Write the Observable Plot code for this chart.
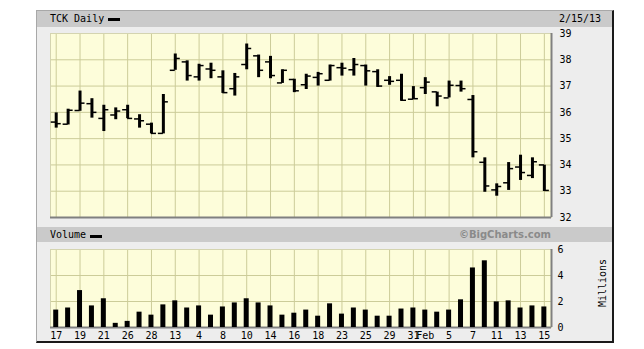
<!DOCTYPE html>
<html><head><meta charset="utf-8">
<script src="https://cdn.jsdelivr.net/npm/d3@7"></script>
<script src="https://cdn.jsdelivr.net/npm/@observablehq/plot@0.6"></script>
<style>
html,body{margin:0;padding:0;background:#fff;}
#wrap{position:relative;width:644px;height:349px;overflow:hidden;font-family:"DejaVu Sans Mono",monospace;font-size:10px;color:#000;}
.abs{position:absolute;white-space:nowrap;}
.txt{line-height:12px;}
svg{overflow:visible;}
</style></head><body>
<div id="wrap">
  <div class="abs" style="left:36px;top:10px;width:575px;height:330px;background:#ededed;border-left:1px solid #a8a8a8;border-top:1px solid #a8a8a8;border-right:2px solid #1a1a1a;border-bottom:2px solid #1a1a1a;"></div>
  <div class="abs" style="left:37px;top:11px;width:575px;height:16px;background:#cacaca;"></div>
  <div class="abs txt" style="left:50px;top:13px;">TCK Daily</div>
  <div class="abs" style="left:108px;top:18px;width:12px;height:3px;background:#000;"></div>
  <div class="abs txt" style="left:559px;top:13px;">2/15/13</div>
  <div class="abs" style="left:37px;top:227px;width:575px;height:15px;background:#cacaca;"></div>
  <div class="abs txt" style="left:50px;top:229px;">Volume</div>
  <div class="abs" style="left:90px;top:235px;width:12px;height:3px;background:#000;"></div>
  <div class="abs txt" style="right:93px;top:229px;font-family:'DejaVu Sans',sans-serif;font-weight:bold;color:#8a8a8a;">©BigCharts.com</div>
  <div class="abs txt" style="left:603px;top:283px;transform:translate(-50%,-50%) rotate(-90deg);">Millions</div>
  <div class="abs" id="price" style="left:0;top:0;"></div>
  <div class="abs" id="vol" style="left:0;top:242px;"></div>
</div>
<script>
const dates = ["2012-12-17","2012-12-18","2012-12-19","2012-12-20","2012-12-21","2012-12-24","2012-12-26","2012-12-27","2012-12-28","2012-12-31",
  "2013-01-02","2013-01-03","2013-01-04","2013-01-07","2013-01-08","2013-01-09","2013-01-10","2013-01-11","2013-01-14","2013-01-15",
  "2013-01-16","2013-01-17","2013-01-18","2013-01-22","2013-01-23","2013-01-24","2013-01-25","2013-01-28","2013-01-29","2013-01-30",
  "2013-01-31","2013-02-01","2013-02-04","2013-02-05","2013-02-06","2013-02-07","2013-02-08","2013-02-11","2013-02-12","2013-02-13",
  "2013-02-14","2013-02-15"];
const open  = [35.63,35.55,36.07,36.33,35.77,35.90,36.10,35.75,35.55,35.20,37.60,37.92,37.35,37.65,37.35,36.90,37.82,38.15,37.92,37.12,37.25,37.05,37.33,37.22,37.70,37.62,37.78,37.55,37.22,37.22,36.50,36.94,36.78,36.55,37.02,36.49,34.10,33.05,33.32,33.92,33.60,34.00];
const high  = [35.98,36.12,36.81,36.52,36.27,36.17,36.27,35.91,35.59,36.68,38.22,37.96,37.83,37.87,37.58,37.48,38.60,38.18,38.13,37.62,37.26,37.45,37.52,37.80,37.87,38.05,37.80,37.62,37.36,37.45,36.98,37.32,36.77,37.19,37.19,36.64,34.27,33.28,34.09,34.37,34.27,33.99];
const low   = [35.40,35.52,36.04,35.78,35.27,35.72,35.76,35.40,35.18,35.18,37.60,37.19,37.19,37.28,36.72,36.62,37.62,37.32,37.28,37.10,36.75,36.87,37.00,37.19,37.38,37.38,37.00,36.95,37.03,36.42,36.49,36.68,36.21,36.55,36.77,34.27,32.96,32.81,33.03,33.41,33.48,32.99];
const close = [35.57,36.08,36.35,36.00,36.10,36.05,35.77,35.68,35.20,36.40,38.05,37.40,37.78,37.60,36.75,37.35,38.43,37.60,37.40,37.60,36.82,37.38,37.47,37.78,37.68,37.82,37.58,37.00,37.18,36.46,36.52,37.15,36.62,37.03,36.90,34.50,33.20,33.18,33.86,33.71,34.12,33.03];
const volume = [1.34,1.50,2.84,1.66,2.21,0.32,0.47,1.18,0.95,1.74,2.05,1.50,1.66,0.95,1.58,1.89,2.21,1.89,1.66,0.95,1.10,1.34,0.87,1.82,1.03,1.50,1.34,0.87,0.87,1.42,1.50,1.34,1.18,1.34,2.13,4.58,5.13,1.97,2.05,1.50,1.66,1.58];
const xTickDates = ["2012-12-17","2012-12-19","2012-12-21","2012-12-26","2012-12-28","2013-01-02","2013-01-04","2013-01-08","2013-01-10","2013-01-14","2013-01-16","2013-01-18","2013-01-23","2013-01-25","2013-01-29","2013-01-31","2013-02-01","2013-02-05","2013-02-07","2013-02-11","2013-02-13","2013-02-15"];
const xTickLabels = ["17","19","21","26","28","13","4","8","10","14","16","18","23","25","29","31","Feb","5","7","11","13","15"];
const priceTicks = [32,33,34,35,36,37,38,39];
const volumeTicks = [0,2,4,6];

const data = dates.map((d,i)=>({i, date:d, open:open[i], high:high[i], low:low[i], close:close[i], volume:volume[i]}));
const xTickIdx = xTickDates.map(d=>dates.indexOf(d));
const labelOf = new Map(xTickIdx.map((v,k)=>[v, xTickLabels[k]]));
const xDomain = [-0.48, 41.6];
const grid = "#cccc99";
const bg = "#fdfdda";
const style = {background:"transparent", fontFamily:"'DejaVu Sans Mono', monospace", fontSize:"10px", color:"#000", overflow:"visible"};

const price = Plot.plot({
  width:644, height:222, marginTop:33, marginBottom:5, marginLeft:50, marginRight:93,
  style,
  x:{domain:xDomain, axis:null},
  y:{domain:[32,39], axis:"right", ticks:priceTicks, tickSize:0, tickPadding:8, tickFormat:d=>String(d), label:null},
  marks:[
    Plot.frame({fill:bg, stroke:null}),
    Plot.ruleY(priceTicks, {stroke:grid}),
    Plot.ruleX(xTickIdx, {stroke:grid}),
    Plot.frame({stroke:"#d4d4b0"}),
    Plot.ruleY([32], {stroke:"#808080", strokeWidth:2}),
    Plot.ruleX([xDomain[1]], {stroke:"#808080", strokeWidth:2}),
    Plot.ruleX(data, {x:"i", y1:"low", y2:"high", stroke:"#000", strokeWidth:3}),
    Plot.ruleY(data, {y:"open", x1:d=>d.i-0.42, x2:"i", stroke:"#000", strokeWidth:1.5}),
    Plot.ruleY(data, {y:"close", x1:"i", x2:d=>d.i+0.42, stroke:"#000", strokeWidth:1.5})
  ]
});
document.getElementById("price").appendChild(price);

const vol = Plot.plot({
  width:644, height:100, marginTop:7, marginBottom:15, marginLeft:50, marginRight:93,
  style,
  x:{domain:xDomain, ticks:xTickIdx, tickSize:0, tickPadding:4, tickFormat:d=>labelOf.get(d), label:null},
  y:{domain:[0,6], axis:"right", ticks:volumeTicks, tickSize:0, tickPadding:6, tickFormat:d=>String(d), label:null},
  marks:[
    Plot.frame({fill:bg, stroke:null}),
    Plot.ruleY(volumeTicks, {stroke:grid}),
    Plot.ruleX(xTickIdx, {stroke:grid}),
    Plot.frame({stroke:"#d4d4b0"}),
    Plot.ruleY([0], {stroke:"#808080", strokeWidth:2}),
    Plot.ruleX([xDomain[1]], {stroke:"#808080", strokeWidth:2}),
    Plot.rectY(data, {x1:d=>d.i-0.21, x2:d=>d.i+0.21, y:"volume", fill:"#000"})
  ]
});
document.getElementById("vol").appendChild(vol);
</script>
</body></html>
